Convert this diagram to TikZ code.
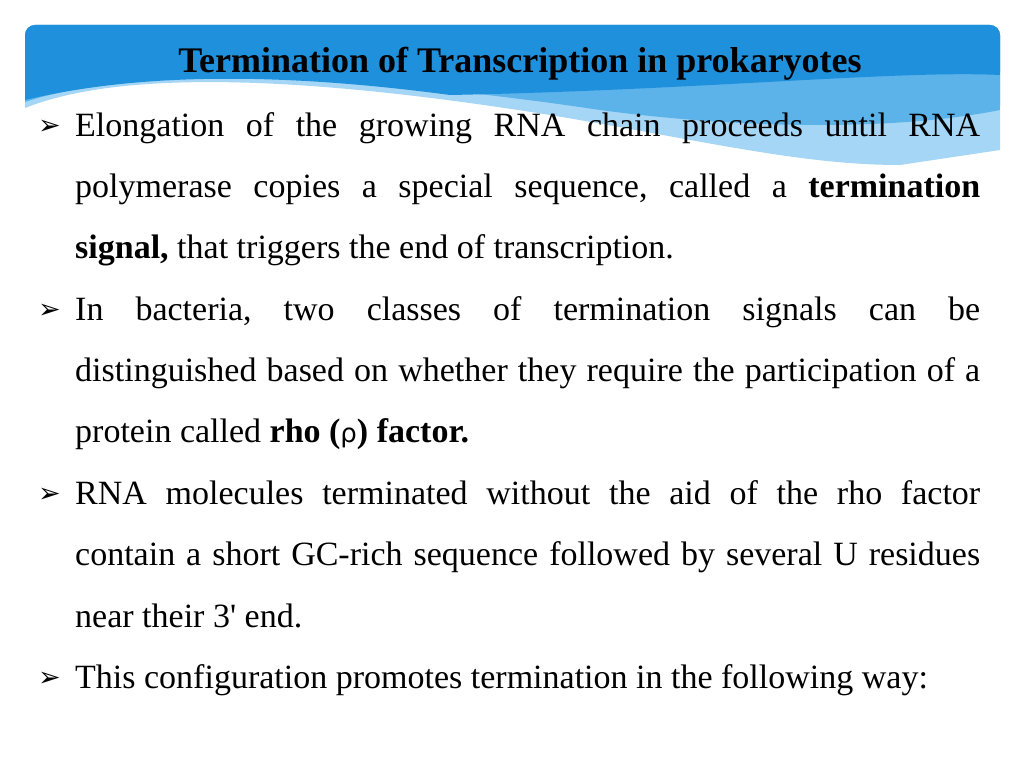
\documentclass[tikz,border=0pt]{standalone}
\usepackage{fontspec}
\setmainfont{Liberation Serif}
\newfontfamily\dvs{DejaVu Sans}
\definecolor{dblue}{HTML}{1E90DC}
\definecolor{mblue}{HTML}{5BB3EA}
\definecolor{lblue}{HTML}{A6D6F5}
\frenchspacing
\begin{document}
\begin{tikzpicture}[x=1pt,y=-1pt,
  txt/.style={anchor=base west,inner sep=0pt,font=\fontsize{34}{39}\selectfont},
  bul/.style={anchor=base west,inner sep=0pt,font=\dvs\fontsize{27}{30}\selectfont}]
\useasboundingbox (0,0) rectangle (1024,768);
\fill[white] (0,0) rectangle (1024,768);
\begin{scope}
\clip[rounded corners=10pt] (25,25) rectangle (1000,200);
\clip (0,0) -- (25,108) .. controls (120,70) and (300,75) .. (550,115) .. controls (700,140) and (800,165) .. (900,165) -- (1000,150) -- (1024,0) -- cycle;
\fill[lblue] (0,0) rectangle (1024,200);
\fill[mblue] (0,0) -- (25,102) .. controls (150,60) and (400,80) .. (600,110) .. controls (750,130) and (900,130) .. (1000,110) -- (1024,0) -- cycle;
\fill[dblue] (0,0) -- (25,100) .. controls (150,70) and (300,75) .. (450,95) .. controls (700,90) and (900,70) .. (1000,75) -- (1024,0) -- cycle;
\end{scope}
\node[anchor=base,inner sep=0pt,font=\bfseries\fontsize{36}{41}\selectfont] (title) at (520,72) {Termination of Transcription in prokaryotes};
\foreach \y/\n in {136/b1,320/b2,504/b3,688/b4}{\node[bul] (\n) at (38,\y-2) {➢};}
\node[txt] (l1) at (75,136) {\makebox[905pt][s]{Elongation of the growing RNA chain proceeds until RNA}};
\node[txt] (l2) at (75,197) {\makebox[905pt][s]{polymerase copies a special sequence, called a \textbf{termination}}};
\node[txt] (l3) at (75,258) {\textbf{signal,} that triggers the end of transcription.};
\node[txt] (l4) at (75,320) {\makebox[905pt][s]{In bacteria, two classes of termination signals can be}};
\node[txt] (l5) at (75,381) {\makebox[905pt][s]{distinguished based on whether they require the participation of a}};
\node[txt] (l6) at (75,442) {protein called \textbf{rho (}{\dvs\fontsize{26}{30}\selectfont ρ}\textbf{) factor.}};
\node[txt] (l7) at (75,504) {\makebox[905pt][s]{RNA molecules terminated without the aid of the rho factor}};
\node[txt] (l8) at (75,565) {\makebox[905pt][s]{contain a short GC-rich sequence followed by several U residues}};
\node[txt] (l9) at (75,627) {near their 3\textquotesingle{} end.};
\node[txt] (l10) at (75,688) {This configuration promotes termination in the following way:};
\end{tikzpicture}
\end{document}
